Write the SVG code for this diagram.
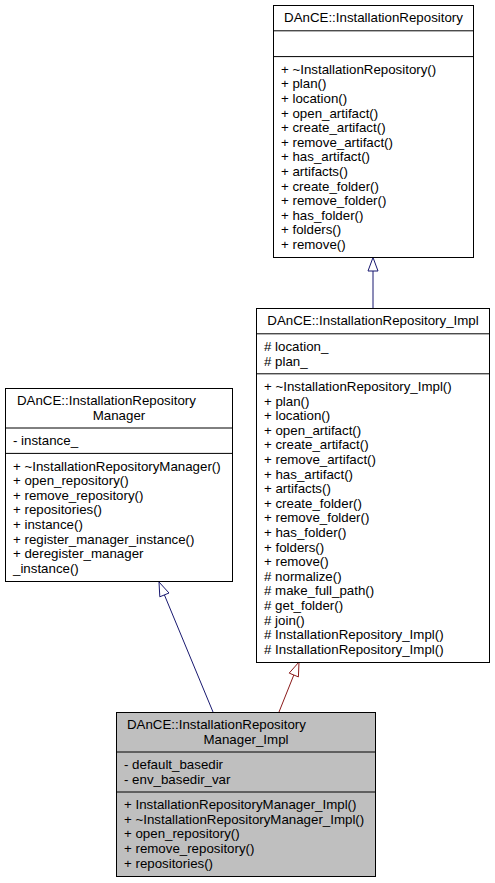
<svg xmlns="http://www.w3.org/2000/svg" width="495" height="883" viewBox="0 0 495 883">
<style>
text{font-family:"Liberation Sans",Arial,Helvetica,sans-serif;font-size:13.3px;fill:#000}
.c{text-anchor:middle}
.box{fill:#fff;stroke:#000;stroke-width:1}
.gray{fill:#bfbfbf}
.sep{stroke:#000;stroke-width:1}
.pub{stroke:#191970;fill:none;stroke-width:1}
.pubh{stroke:#191970;fill:#fff;stroke-width:1}
.pri{stroke:#8b1a1a;fill:none;stroke-width:1}
.prih{stroke:#8b1a1a;fill:#fff;stroke-width:1}
</style>
<g id="connectors">
<path class="pub" d="M373,308 L373,271"/>
<polygon class="pubh" points="373,257.5 368,271 378,271"/>
<path class="pub" d="M213,712 L164.4,594.9"/>
<polygon class="pubh" points="159,582 169,593 159.8,596.8"/>
<path class="pri" d="M279,712 L293.8,675"/>
<polygon class="prih" points="299,662 298.4,676.9 289.2,673.1"/>
</g>
<g id="InstallationRepository">
<rect class="box" x="273.5" y="5.5" width="200" height="252"/>
<line class="sep" x1="273.5" y1="30.8" x2="473.5" y2="30.8"/>
<line class="sep" x1="273.5" y1="56.6" x2="473.5" y2="56.6"/>
<text class="c" x="373.5" y="22.2">DAnCE::InstallationRepository</text>
<text x="281" y="73.8">+ ~InstallationRepository()</text>
<text x="281" y="88.4">+ plan()</text>
<text x="281" y="103">+ location()</text>
<text x="281" y="117.6">+ open_artifact()</text>
<text x="281" y="132.2">+ create_artifact()</text>
<text x="281" y="146.8">+ remove_artifact()</text>
<text x="281" y="161.4">+ has_artifact()</text>
<text x="281" y="176">+ artifacts()</text>
<text x="281" y="190.6">+ create_folder()</text>
<text x="281" y="205.2">+ remove_folder()</text>
<text x="281" y="219.8">+ has_folder()</text>
<text x="281" y="234.4">+ folders()</text>
<text x="281" y="249">+ remove()</text>
</g>
<g id="InstallationRepository_Impl">
<rect class="box" x="256.5" y="308.5" width="233" height="354"/>
<line class="sep" x1="256.5" y1="333.8" x2="489.5" y2="333.8"/>
<line class="sep" x1="256.5" y1="373.8" x2="489.5" y2="373.8"/>
<text class="c" x="373" y="325.2">DAnCE::InstallationRepository_Impl</text>
<text x="264" y="351"># location_</text>
<text x="264" y="365.6"># plan_</text>
<text x="264" y="391">+ ~InstallationRepository_Impl()</text>
<text x="264" y="405.6">+ plan()</text>
<text x="264" y="420.2">+ location()</text>
<text x="264" y="434.8">+ open_artifact()</text>
<text x="264" y="449.4">+ create_artifact()</text>
<text x="264" y="464">+ remove_artifact()</text>
<text x="264" y="478.6">+ has_artifact()</text>
<text x="264" y="493.2">+ artifacts()</text>
<text x="264" y="507.8">+ create_folder()</text>
<text x="264" y="522.4">+ remove_folder()</text>
<text x="264" y="537">+ has_folder()</text>
<text x="264" y="551.6">+ folders()</text>
<text x="264" y="566.2">+ remove()</text>
<text x="264" y="580.8"># normalize()</text>
<text x="264" y="595.4"># make_full_path()</text>
<text x="264" y="610"># get_folder()</text>
<text x="264" y="624.6"># join()</text>
<text x="264" y="639.2"># InstallationRepository_Impl()</text>
<text x="264" y="653.8"># InstallationRepository_Impl()</text>
</g>
<g id="InstallationRepositoryManager">
<rect class="box" x="5.5" y="388.5" width="227" height="193"/>
<line class="sep" x1="5.5" y1="428" x2="232.5" y2="428"/>
<line class="sep" x1="5.5" y1="453.4" x2="232.5" y2="453.4"/>
<text x="17" y="405.2">DAnCE::InstallationRepository</text>
<text class="c" x="119" y="419.8">Manager</text>
<text x="13" y="445.2">- instance_</text>
<text x="13" y="470.6">+ ~InstallationRepositoryManager()</text>
<text x="13" y="485.2">+ open_repository()</text>
<text x="13" y="499.8">+ remove_repository()</text>
<text x="13" y="514.4">+ repositories()</text>
<text x="13" y="529">+ instance()</text>
<text x="13" y="543.6">+ register_manager_instance()</text>
<text x="13" y="558.2">+ deregister_manager</text>
<text x="13" y="572.8">_instance()</text>
</g>
<g id="InstallationRepositoryManager_Impl">
<rect class="box gray" x="116.5" y="712.5" width="259" height="164"/>
<line class="sep" x1="116.5" y1="752" x2="375.5" y2="752"/>
<line class="sep" x1="116.5" y1="792" x2="375.5" y2="792"/>
<text x="127" y="729.2">DAnCE::InstallationRepository</text>
<text class="c" x="246" y="743.8">Manager_Impl</text>
<text x="124" y="769.2">- default_basedir</text>
<text x="124" y="783.8">- env_basedir_var</text>
<text x="124" y="809.2">+ InstallationRepositoryManager_Impl()</text>
<text x="124" y="823.8">+ ~InstallationRepositoryManager_Impl()</text>
<text x="124" y="838.4">+ open_repository()</text>
<text x="124" y="853">+ remove_repository()</text>
<text x="124" y="867.6">+ repositories()</text>
</g>
</svg>
